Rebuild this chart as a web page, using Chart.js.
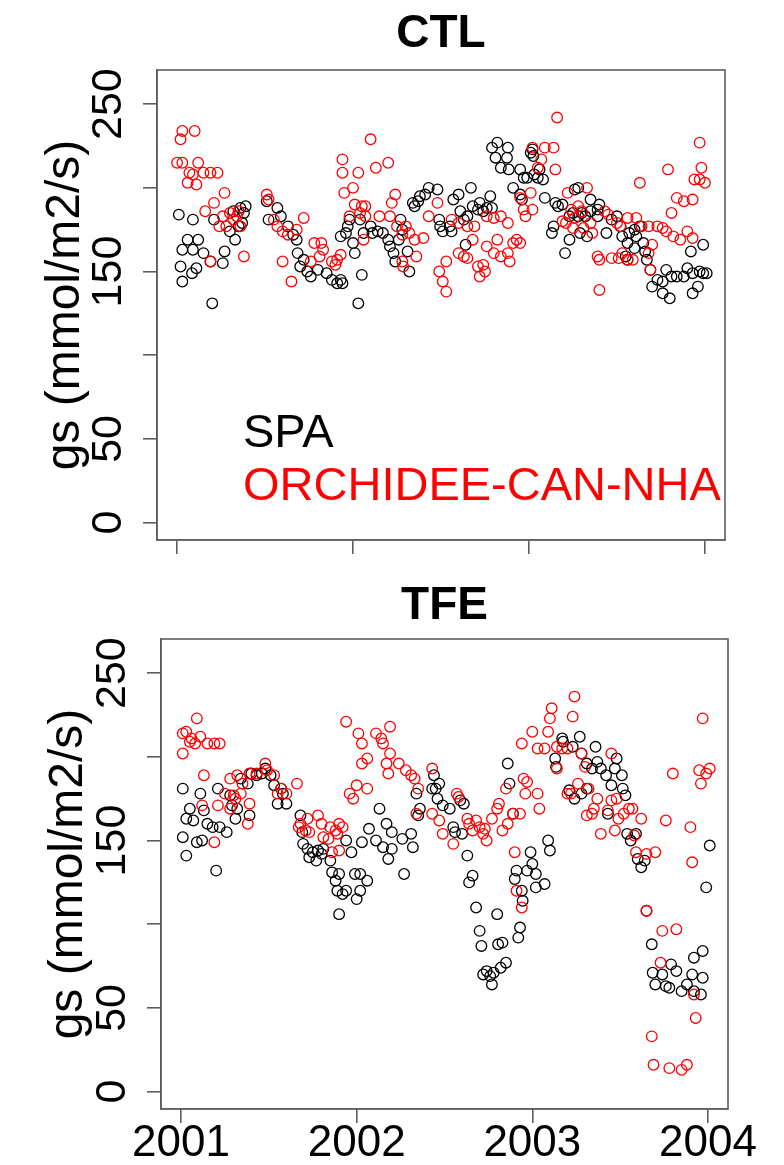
<!DOCTYPE html>
<html><head><meta charset="utf-8">
<script src="https://cdn.jsdelivr.net/npm/chart.js@4.4.1/dist/chart.umd.min.js"></script>
<style>
html,body{margin:0;padding:0;background:#fff;width:784px;height:1165px;overflow:hidden}
.panel{position:absolute;left:0;width:784px}
</style></head><body>
<div class="panel" style="top:0;height:580px"><canvas id="c1" width="784" height="580"></canvas></div>
<div class="panel" style="top:580px;height:585px"><canvas id="c2" width="784" height="585"></canvas></div>
<script>
const xTickYears = [2001, 2002, 2003, 2004];
const yTickValues = [0, 50, 100, 150, 200, 250];
const yTickLabels = ['0', '50', '', '150', '', '250'];
const panelTitles = ['CTL', 'TFE'];
const seriesNames = ['SPA', 'ORCHIDEE-CAN-NHA'];
const seriesColors = ['#000000', '#ff0000'];
const yAxisTitle = 'gs (mmol/m2/s)';

// [decimal year, gs]
const ctlSpa = [
[2001.01,184],[2001.02,153],[2001.03,144],[2001.03,163],[2001.06,169],[2001.09,163],[2001.085,149],[2001.09,181],[2001.11,152],[2001.12,169],[2001.15,161],[2001.19,156],[2001.20,131],[2001.21,181],[2001.26,155],[2001.27,162],[2001.30,174],[2001.32,186],[2001.33,169],[2001.35,177],[2001.36,188],[2001.37,179],[2001.38,185],[2001.39,189],[2001.51,192],[2001.52,181],[2001.57,188],[2001.59,183],[2001.63,177],[2001.66,172],[2001.68,169],[2001.685,161],[2001.70,153],[2001.72,157],[2001.74,150],[2001.76,147],[2001.80,151],[2001.85,149],[2001.88,145],[2001.91,143],
[2001.93,145],[2001.94,143],[2002.03,131],[2002.05,148],[2001.98,181],[2001.97,177],[2001.96,173],[2001.93,171],[2002.00,167],[2002.01,161],[2002.04,181],[2002.06,173],[2002.10,177],[2002.11,173],[2002.14,174],[2002.17,173],[2002.20,169],[2002.21,165],[2002.23,161],[2002.24,156],[2002.26,169],[2002.28,175],[2002.31,162],[2002.32,150],[2002.27,181],[2002.34,191],[2002.35,189],[2002.37,192],[2002.38,195],[2002.43,200],[2002.48,199],[2002.41,196],[2002.49,181],[2002.495,177],[2002.51,174],[2002.55,177],[2002.56,174],[2002.57,193],[2002.60,196],[2002.61,186],[2002.63,181],[2002.65,183],[2002.67,200],[2002.68,189],[2002.71,187],[2002.72,191],[2002.74,186],[2002.76,188],[2002.78,195],[2002.79,188],[2002.64,166],[2002.79,224],[2002.82,227],[2002.88,224],[2002.81,218],[2002.84,212],[2002.875,218],[2002.885,211],[2002.91,200],[2002.95,196],[2002.96,193],
[2003.01,221],[2003.02,223],[2003.025,219],[2002.95,211],[2002.97,206],[2002.99,206],[2003.03,208],[2003.05,206],[2003.06,211],[2003.08,205],[2003.09,194],[2003.15,191],[2003.165,189],[2003.19,190],[2003.26,199],[2003.28,200],[2003.35,193],[2003.40,190],[2003.39,187],[2003.25,185],[2003.23,183],[2003.28,183],[2003.30,185],[2003.32,183],[2003.35,186],[2003.39,183],[2003.14,177],[2003.13,173],[2003.23,169],[2003.205,161],[2003.29,173],[2003.33,171],[2003.44,173],[2003.47,181],[2003.50,183],[2003.52,177],[2003.53,171],[2003.57,173],[2003.60,175],[2003.63,177],[2003.61,171],[2003.65,167],[2003.56,167],[2003.60,164],[2003.67,157],[2003.69,151],[2003.70,141],[2003.73,145],[2003.76,144],[2003.78,151],[2003.76,137],[2003.80,134],[2003.81,147],[2003.84,147],[2003.88,147],[2003.90,152],[2003.92,162],[2003.93,149],[2003.97,150],[2003.99,149],[2004.01,149],[2003.99,166],[2003.96,141],[2003.93,137],[2003.56,157],[2003.55,159],[2003.66,162]
];
const ctlOrc = [
[2001.03,234],[2001.10,234],[2001.02,229],[2001.00,215],[2001.03,215],[2001.12,215],[2001.07,209],[2001.09,208],[2001.19,209],[2001.23,209],[2001.15,209],[2001.06,203],[2001.11,202],[2001.27,197],[2001.21,191],[2001.16,186],[2001.26,183],[2001.30,185],[2001.34,183],[2001.28,177],[2001.24,177],[2001.36,177],[2001.35,186],[2001.32,181],[2001.38,159],[2001.19,156],[2001.51,196],[2001.52,193],[2001.55,181],[2001.57,177],[2001.60,174],[2001.63,172],[2001.72,182],[2001.68,175],[2001.60,156],[2001.65,144],[2001.78,167],[2001.82,167],[2001.83,163],[2001.81,159],[2001.88,156],[2001.91,157],[2001.90,154],[2001.76,156],
[2001.94,217],[2001.94,209],[2002.03,209],[2002.00,200],[2001.95,197],[2002.01,190],[2002.05,189],[2002.07,189],[2002.10,229],[2002.13,212],[2002.20,215],[2002.24,196],[2002.22,191],[2001.93,160],[2001.98,183],[2002.04,185],[2002.07,183],[2002.06,169],[2002.15,183],[2002.21,183],[2002.25,177],[2002.30,177],[2002.28,172],[2002.32,173],[2002.35,169],[2002.40,170],[2002.36,159],[2002.28,156],[2002.285,153],[2002.43,183],[2002.48,191],[2002.53,156],[2002.49,150],[2002.51,144],[2002.53,138],[2002.60,161],[2002.63,159],[2002.65,158],[2002.68,169],[2002.71,153],[2002.74,154],[2002.76,165],[2002.80,161],[2002.82,169],[2002.84,159],[2002.88,161],[2002.89,156],[2002.91,167],[2002.93,169],[2002.72,147],[2002.75,150],[2002.56,181],[2002.60,179],[2002.65,177],[2002.69,177],[2002.76,183],[2002.80,182],[2002.84,183],[2002.88,179],
[2003.16,242],[2003.02,224],[2003.09,224],[2003.14,224],[2003.07,217],[2003.05,212],[2003.15,211],[2003.01,197],[2002.95,194],[2002.97,187],[2003.02,187],[2002.98,183],[2002.95,167],[2003.33,200],[2003.22,197],[2003.21,179],[2003.19,180],[2003.24,187],[2003.28,189],[2003.30,186],[2003.26,182],[2003.35,179],[2003.36,173],[2003.25,176],[2003.31,176],[2003.43,186],[2003.45,184],[2003.39,159],[2003.40,157],[2003.47,158],[2003.51,158],[2003.53,161],[2003.56,157],[2003.59,157],[2003.40,139],[2003.50,179],[2003.52,177],[2003.56,182],[2003.61,182],[2003.64,177],[2003.68,177],[2003.70,166],[2003.68,161],[2003.69,151],[2003.63,203],[2003.73,177],[2003.76,176],[2003.78,174],[2003.82,171],[2003.86,169],[2003.90,174],[2003.93,170],[2003.79,211],[2003.81,185],[2003.84,194],[2003.88,192],[2003.93,193],[2003.97,227],[2003.98,212],[2003.94,205],[2003.97,205],[2004.00,203]
];
const tfeSpa = [
[2001.01,181],[2001.11,178],[2001.21,181],[2001.05,169],[2001.13,168],[2001.03,163],[2001.07,162],[2001.15,160],[2001.18,158],[2001.22,158],[2001.26,155],[2001.01,152],[2001.09,149],[2001.12,150],[2001.03,141],[2001.20,132],[2001.28,177],[2001.29,171],[2001.32,169],[2001.31,163],[2001.39,165],[2001.34,187],[2001.38,184],[2001.40,190],[2001.43,189],[2001.46,190],[2001.48,193],[2001.51,189],[2001.53,183],[2001.55,172],[2001.57,181],[2001.60,172],[2001.58,178],[2001.68,165],[2001.69,155],[2001.695,148],[2001.72,145],[2001.75,143],[2001.78,144],[2001.80,142],[2001.81,145],[2001.77,138],[2001.73,140],[2001.85,138],[2001.86,131],[2001.88,126],[2001.89,120],
[2001.90,130],[2001.92,118],[2001.90,106],[2001.99,130],[2002.02,130],[2002.06,126],[2002.02,120],[2002.00,115],[2001.94,120],[2001.94,150],[2001.97,143],[2002.03,149],[2002.07,157],[2002.11,150],[2002.13,169],[2002.17,160],[2002.20,155],[2002.15,146],[2002.18,139],[2002.20,145],[2002.26,151],[2002.31,154],[2002.32,146],[2002.27,130],[2002.34,178],[2002.35,165],[2002.36,169],[2002.43,181],[2002.44,189],[2002.45,181],[2002.47,184],[2002.46,175],[2002.49,171],[2002.53,169],[2002.55,158],[2002.56,155],[2002.59,174],[2002.61,172],[2002.60,154],[2002.63,141],[2002.64,125],[2002.66,129],[2002.68,110],[2002.70,96],[2002.71,87],[2002.80,106],[2002.805,88],[2002.83,89],[2002.85,77],[2002.82,74],[2002.74,72],[2002.72,70],[2002.76,69],[2002.78,71],[2002.77,64],[2002.86,196],[2002.87,184],[2002.89,166],[2002.93,98],[2002.92,92],[2002.90,127],[2002.94,120],[2002.945,114],[2002.91,132],[2002.97,132],[2002.99,143],[2003.00,136],[2003.02,130],[2003.02,122],
[2003.09,150],[2003.10,144],[2003.07,124],[2003.17,211],[2003.27,212],[2003.36,206],[2003.175,209],[2003.23,206],[2003.13,199],[2003.135,194],[2003.28,202],[2003.31,196],[2003.34,193],[2003.37,197],[2003.39,193],[2003.42,189],[2003.45,183],[2003.47,193],[2003.48,199],[2003.51,189],[2003.515,181],[2003.53,177],[2003.21,180],[2003.24,175],[2003.31,181],[2003.28,178],[2003.43,166],[2003.54,154],[2003.56,150],[2003.59,154],[2003.60,139],[2003.62,134],[2003.64,138],[2003.65,108],[2003.68,88],[2003.685,71],[2003.70,64],[2003.74,70],[2003.79,76],[2003.82,72],[2003.76,63],[2003.78,62],[2003.85,60],[2003.88,64],[2003.91,70],[2003.92,80],[2003.97,84],[2003.97,68],[2003.96,58],[2003.92,60],[2004.01,147],[2003.99,122]
];
const tfeOrc = [
[2001.09,223],[2001.01,214],[2001.03,215],[2001.05,209],[2001.06,211],[2001.11,212],[2001.15,208],[2001.19,208],[2001.22,208],[2001.01,202],[2001.08,208],[2001.13,189],[2001.12,171],[2001.21,171],[2001.19,149],[2001.28,187],[2001.32,189],[2001.35,184],[2001.39,190],[2001.43,190],[2001.48,196],[2001.49,192],[2001.53,189],[2001.55,178],[2001.57,181],[2001.60,178],[2001.66,184],[2001.25,178],[2001.30,177],[2001.34,178],[2001.39,172],[2001.28,169],[2001.38,160],[2001.31,175],[2001.68,160],[2001.72,163],[2001.78,165],[2001.80,160],[2001.85,158],[2001.88,156],[2001.67,158],[2001.71,156],[2001.73,155],[2001.81,152],[2001.84,151],[2001.89,154],[2001.86,143],
[2001.94,221],[2002.01,214],[2002.03,208],[2002.06,199],[2002.03,196],[2002.11,214],[2002.14,211],[2002.15,208],[2002.19,218],[2002.19,202],[2002.17,196],[2002.18,190],[2001.96,178],[2001.98,175],[2002.00,183],[2002.06,181],[2001.90,160],[2001.92,158],[2001.90,144],[2002.24,196],[2002.28,192],[2002.31,189],[2002.33,187],[2002.35,181],[2002.43,193],[2002.34,166],[2002.43,166],[2002.47,162],[2002.49,154],[2002.55,148],[2002.57,178],[2002.58,176],[2002.63,163],[2002.64,160],[2002.68,162],[2002.66,156],[2002.70,158],[2002.72,154],[2002.74,150],[2002.73,157],[2002.77,163],[2002.80,169],[2002.81,172],[2002.83,156],[2002.86,160],[2002.89,166],[2002.85,181],[2002.90,143],[2002.91,120],[2002.94,110],
[2003.24,236],[2003.23,224],[2003.11,229],[2003.10,223],[2003.09,215],[2003.00,215],[2002.94,208],[2003.03,205],[2003.07,205],[2003.14,206],[2003.17,205],[2003.20,205],[2002.95,187],[2002.97,185],[2002.96,178],[2003.03,178],[2003.04,169],[2002.93,166],[2003.14,193],[2003.20,178],[2003.22,178],[2003.28,202],[2003.30,194],[2003.26,184],[2003.32,181],[2003.37,175],[2003.35,169],[2003.34,166],[2003.31,165],[2003.39,154],[2003.43,168],[2003.45,174],[2003.48,175],[2003.47,156],[2003.49,163],[2003.52,166],[2003.55,169],[2003.57,169],[2003.62,163],[2003.58,153],[2003.59,143],[2003.65,142],[2003.70,143],[2003.45,202],[2003.76,162],[2003.90,158],[2003.91,137],[2003.80,190],[2003.97,223],[2003.95,192],[2004.01,193],[2003.99,190],[2003.96,184],[2003.74,96],[2003.82,97],[2003.73,77],[2003.92,58],[2003.93,44],[2003.68,33],[2003.69,16],[2003.78,14],[2003.85,13],[2003.88,16],[2003.65,108]
];

const FONT = '"Liberation Sans", Arial, Helvetica, sans-serif';
const AXIS_COLOR = '#5e5e5e';

function toXY(a) { return a.map(p => ({ x: p[0], y: p[1] })); }

const boxPlugin = {
  id: 'box',
  afterDraw(chart) {
    const { ctx, chartArea: a } = chart;
    ctx.save();
    ctx.strokeStyle = AXIS_COLOR;
    ctx.lineWidth = 1.6;
    ctx.strokeRect(a.left, a.top, a.right - a.left, a.bottom - a.top);
    ctx.restore();
  }
};

const textLegendPlugin = {
  id: 'textLegend',
  afterDraw(chart, args, opts) {
    if (!opts.show) return;
    const { ctx, chartArea: a } = chart;
    ctx.save();
    ctx.font = '47px ' + FONT;
    ctx.textAlign = 'left';
    ctx.textBaseline = 'alphabetic';
    seriesNames.forEach((n, i) => {
      ctx.fillStyle = seriesColors[i];
      ctx.fillText(n, a.left + 86, a.top + 377 + i * 53);
    });
    ctx.restore();
  }
};

function makeChart(id, title, spa, orc, d) {
  const gridOpts = { drawOnChartArea: false, drawTicks: true, tickLength: 14, color: AXIS_COLOR, lineWidth: 1.6 };
  const borderOpts = { display: true, color: AXIS_COLOR, width: 1.6 };
  const pt = { pointRadius: 5.3, pointBorderWidth: 1.3, pointStyle: 'circle', showLine: false, backgroundColor: 'rgba(0,0,0,0)', pointBackgroundColor: 'rgba(0,0,0,0)' };
  return new Chart(document.getElementById(id), {
    type: 'scatter',
    data: {
      datasets: [
        Object.assign({ label: seriesNames[1], data: toXY(orc), borderColor: seriesColors[1], pointBorderColor: seriesColors[1] }, pt),
        Object.assign({ label: seriesNames[0], data: toXY(spa), borderColor: seriesColors[0], pointBorderColor: seriesColors[0] }, pt)
      ]
    },
    options: {
      animation: false, responsive: false, devicePixelRatio: 1, events: [],
      layout: { padding: { left: 0, right: d.padRight, top: 0, bottom: 0 } },
      plugins: {
        legend: { display: false },
        tooltip: { enabled: false },
        title: { display: true, text: title, fullSize: false, color: '#000',
                 font: { size: 46, weight: 'bold', family: FONT, lineHeight: 1 },
                 padding: { top: d.titleTop, bottom: d.titleBottom } },
        textLegend: { show: d.legend }
      },
      scales: {
        x: {
          type: 'linear', min: 2000.886, max: 2004.114,
          afterBuildTicks: s => { s.ticks = xTickYears.map(v => ({ value: v })); },
          afterFit: s => { s.height = d.xHeight; },
          grid: gridOpts, border: borderOpts,
          ticks: { display: d.xLabels, autoSkip: false, maxRotation: 0, minRotation: 0, color: '#000',
                   font: { size: 44, family: FONT, lineHeight: 1 }, padding: -1, callback: v => String(v) }
        },
        y: {
          type: 'linear', min: -10.4, max: 270.4,
          afterBuildTicks: s => { s.ticks = yTickValues.map(v => ({ value: v })); },
          afterFit: s => { s.width = d.yWidth; },
          grid: gridOpts, border: borderOpts,
          ticks: { autoSkip: false, minRotation: 90, maxRotation: 90, crossAlign: 'center', padding: -2, color: '#000',
                   font: { size: 43, family: FONT, lineHeight: 1.2 },
                   callback: v => yTickLabels[yTickValues.indexOf(v)] },
          title: { display: true, text: yAxisTitle, color: '#000',
                   font: { size: 48, family: FONT, lineHeight: 1.2 }, padding: { top: d.yTitlePad, bottom: 0 } }
        }
      }
    },
    plugins: [boxPlugin, textLegendPlugin]
  });
}

makeChart('c1', panelTitles[0], ctlSpa, ctlOrc,
  { yWidth: 157, xHeight: 40, padRight: 59, titleTop: 11, titleBottom: 13, xLabels: false, yTitlePad: 37, legend: true });
makeChart('c2', panelTitles[1], tfeSpa, tfeOrc,
  { yWidth: 161, xHeight: 56, padRight: 56, titleTop: 3, titleBottom: 10, xLabels: true, yTitlePad: 40, legend: false });
</script>
</body></html>
